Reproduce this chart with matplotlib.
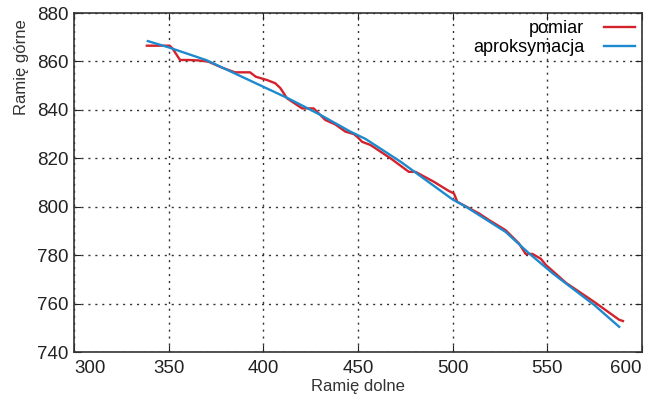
import matplotlib.pyplot as plt

# Dane
pomiar_x = [338.5, 350.5, 352, 356, 360.5, 366, 371, 378, 385, 393, 396, 402, 406.3,
            409, 412.5, 420.5, 426.6, 432.8, 438, 443.4, 447.8, 449.6, 452.2, 456.6,
            467.2, 476.9, 480.4, 490.1, 498, 500.7, 502.5, 514, 519.2, 528, 535.1,
            538.6, 542.2, 546.6, 549.2, 560, 574.8, 588, 590]
pomiar_y = [866.5, 866.5, 865.4, 860.6, 860.6, 860.4, 859.9, 857.5, 855.5, 855.5, 853.7,
            852.3, 851, 849, 844.8, 840.6, 840.6, 835.8, 834, 831, 830, 828.9, 826.8,
            825.5, 820, 814.4, 814.4, 810.3, 806.5, 805.5, 802, 797.2, 794.5, 790.3,
            784.8, 780.5, 780.5, 778.5, 776, 768.5, 760.7, 753.3, 752.8]

aprox_x = [339, 350, 370, 396, 413, 430, 446, 454, 472.5, 500, 507, 528, 540, 553, 575, 588]
aprox_y = [868.4, 865.8, 860.5, 851, 844.8, 838, 831, 828, 818.6, 803, 800, 789.6, 781,
           772.4, 759.3, 750.4]

plt.rcParams['font.family'] = ['Liberation Sans', 'DejaVu Sans']

fig = plt.figure(figsize=(6.52, 4), dpi=100)
ax = fig.add_axes([0.1135, 0.12, 0.871, 0.8475])

ax.plot(pomiar_x, pomiar_y, color='#d4222c', lw=1.7, label='pomiar')
ax.plot(aprox_x, aprox_y, color='#1e8ace', lw=1.7, label='aproksymacja')

ax.set_xlim(300, 600)
ax.set_ylim(740, 880)
ax.set_xticks(range(300, 601, 50))
ax.set_yticks(range(740, 881, 20))
ax.grid(True, color='#333333', linestyle=(0, (1.5, 3.5)), lw=1.0)
ax.tick_params(direction='in', length=5, top=True, right=True, labelsize=13.5,
               colors='#222222')
ax.tick_params(axis='x', pad=6)
ax.tick_params(axis='y', pad=4)
xl = ax.get_xticklabels()
xl[0].set_ha('left')
xl[-1].set_ha('right')
for s in ax.spines.values():
    s.set_linewidth(1.2)
    s.set_color('#333333')

ax.set_xlabel('Ramię dolne', fontsize=12, color='#333333')
ax.xaxis.set_label_coords(0.5, -0.08)
ax.set_ylabel('Ramię górne', fontsize=12, color='#333333')
ax.yaxis.set_label_coords(-0.079, 0.84)

ax.legend(loc='upper right', frameon=False, markerfirst=False, fontsize=13,
          handlelength=1.7, borderpad=0, borderaxespad=0.4, labelspacing=0.12,
          handletextpad=1.1)

plt.savefig('out.png', dpi=100)
